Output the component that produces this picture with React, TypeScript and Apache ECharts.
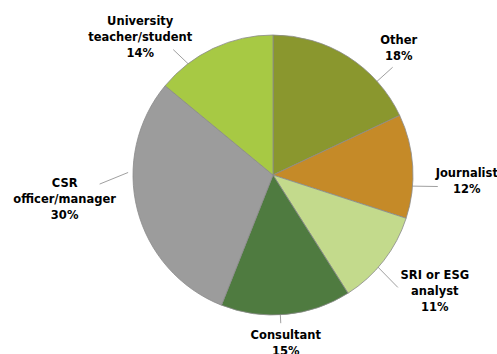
import React, { useEffect, useRef } from 'react';
import * as echarts from 'echarts';

// ---- data ----
const categories = [
  'Other',
  'Journalist',
  'SRI or ESG\nanalyst',
  'Consultant',
  'CSR\nofficer/manager',
  'University\nteacher/student',
];
const shares = [18, 12, 11, 15, 30, 14];
const sliceColors = ['#8a972e', '#c58a28', '#c3da8c', '#4f7b40', '#9c9c9c', '#a7c944'];

// ---- callout layout (angles clockwise from 12 o'clock, radii as fraction of pie radius) ----
const leaderFromAngle = [48, 95, 131, 177, 271, 323.5];
const leaderFromR = [0.9, 0.89, 0.94, 0.89, 1.035, 0.915];
const leaderToAngle = [48, 94, 132, 177, 267, 321.5];
const leaderToR = [1.15, 1.18, 1.2, 1.06, 1.24, 1.145];
const labelDx = [6, 29, 37, 5, -35, -33];
const labelDy = [-19, -6, 4, 20, 15, -13];

const CX = 273;
const CY = 175;
const R = 140;

function polar(angleDeg: number, r: number): number[] {
  const a = (angleDeg * Math.PI) / 180;
  return [CX + r * Math.sin(a), CY - r * Math.cos(a)];
}

export default function App() {
  const ref = useRef<HTMLDivElement>(null);
  useEffect(() => {
    if (!ref.current) return;
    const chart = echarts.init(ref.current, undefined, { renderer: 'svg' });
    const data = categories.map((name, i) => ({
      name,
      value: shares[i],
      itemStyle: { color: sliceColors[i] },
    }));
    chart.setOption({
      animation: false,
      backgroundColor: '#ffffff',
      series: [
        {
          type: 'pie',
          center: [CX, CY],
          radius: [0, R],
          startAngle: 90,
          clockwise: true,
          silent: true,
          data,
          itemStyle: { borderColor: '#8a8a8a', borderWidth: 0.8 },
          label: {
            show: true,
            position: 'outside',
            alignTo: 'none',
            overflow: 'none',
            formatter: (p: any) => `${p.name}\n${p.value}%`,
            fontFamily: 'DejaVu Sans',
            fontWeight: 'bold',
            fontSize: 11.5,
            lineHeight: 16,
            color: '#000000',
          },
          labelLine: {
            show: true,
            length: 20,
            length2: 0,
            lineStyle: { color: '#a0a0a0', width: 1 },
          },
          labelLayout: (params: any) => {
            const i = params.dataIndex;
            const p0 = polar(leaderFromAngle[i], leaderFromR[i] * R);
            const p1 = polar(leaderToAngle[i], leaderToR[i] * R);
            return {
              x: p1[0] + labelDx[i],
              y: p1[1] + labelDy[i],
              align: 'center',
              verticalAlign: 'middle',
              width: 140,
              labelLinePoints: [p0, p1],
            };
          },
          emphasis: { disabled: true },
        },
      ],
    });
    return () => chart.dispose();
  }, []);
  return (
    <div
      ref={ref}
      style={{ position: 'fixed', left: 0, top: 0, width: 497, height: 354 }}
    />
  );
}
